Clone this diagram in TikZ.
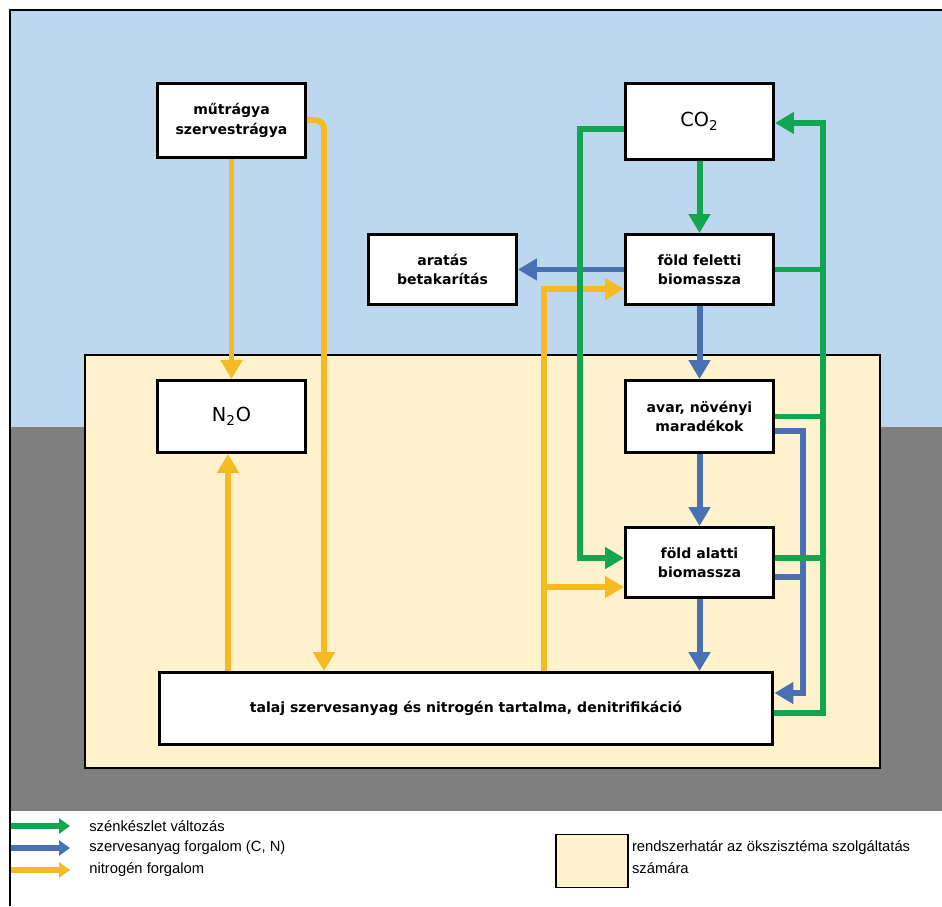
\documentclass[tikz,border=0pt]{standalone}
\usepackage{fontspec}
\setmainfont{DejaVu Sans}
\newfontfamily\jelfont{Liberation Sans}
\usepackage{tikz}
\usetikzlibrary{arrows.meta}
\usetikzlibrary{calc}
\usetikzlibrary{positioning}

\definecolor{egkek}{HTML}{BDD7EE}
\definecolor{talajszurke}{HTML}{7F7F7F}
\definecolor{rendszer}{HTML}{FFF2CC}
\definecolor{szen}{HTML}{12A650}
\definecolor{szerves}{HTML}{4A70B4}
\definecolor{nitrogen}{HTML}{F6BA22}

\tikzset{
  doboz/.style={draw=black, line width=1.7pt, fill=white, align=center, inner sep=0pt,
    minimum width=2.96cm, minimum height=1.44cm, font=\fontsize{8}{11}\selectfont\bfseries},
  keplet/.style={doboz, font=\fontsize{11}{13}\selectfont},
  folyam/.style={line width=3.4pt, -{Triangle[width=0.42cm,length=0.38cm]}},
  vonal/.style={line width=3.4pt},
  jelnyil/.style={line width=3.4pt, -{Triangle[width=0.3cm,length=0.22cm]}},
  jelszoveg/.style={anchor=west, inner sep=0pt, font=\jelfont\fontsize{8.4}{12.5}\selectfont}
}

\begin{document}
\begin{tikzpicture}[x=0.02cm,y=-0.02cm]
\useasboundingbox (0,0) rectangle (942,906);
\fill[egkek] (10,10) rectangle (942,427);
\fill[talajszurke] (10,427) rectangle (942,811);
\draw[fill=rendszer, line width=0.6pt] (85,355) rectangle (880,768);
\draw[line width=0.9pt] (10,906) -- (10,10) -- (942,10);

\node[doboz, minimum height=1.48cm] (mut) at (231.5,120.5) {műtrágya\\szervestrágya};
\node[keplet, minimum height=1.52cm] (co2) at (699.5,121.5) {CO\textsubscript{2}};
\node[doboz, minimum height=1.4cm] (arat) at (442.5,269.5) {aratás\\betakarítás};
\node[doboz, minimum height=1.4cm] (fel) at (699.5,269.5) {föld feletti\\biomassza};
\node[keplet] (n2o) at (231.5,416.5) {N\textsubscript{2}O};
\node[doboz] (avar) at (699.5,416.5) {avar, növényi\\maradékok};
\node[doboz, minimum height=1.4cm] (alatti) at (699.5,562.5) {föld alatti\\biomassza};
\node[doboz, minimum width=12.28cm] (talaj) at (466,708.5) {talaj szervesanyag és nitrogén tartalma, denitrifikáció};

\coordinate (zoldsin) at (823,0);
\coordinate (keksin) at (803,0);
\coordinate (sargaag) at (544,587);

\draw[nitrogen, folyam] (mut) -- (n2o);
\draw[nitrogen, folyam, rounded corners=5pt] (mut.east |- 0,120) -| (talaj.north -| 324,0);
\draw[nitrogen, folyam] (talaj.north -| 228,0) -- (n2o.south -| 228,0);
\draw[nitrogen, folyam] (talaj.north -| 544,0) |- (fel.west |- 0,289);
\draw[nitrogen, folyam] (sargaag) -- (alatti.west |- sargaag);

\draw[szerves, folyam] (fel.west) -- (arat.east);
\draw[szerves, folyam] (fel) -- (avar);
\draw[szerves, folyam] (avar) -- (alatti);
\draw[szerves, folyam] (alatti.south) -- (alatti.south |- talaj.north);
\draw[szerves, folyam] (avar.east |- 0,431) -| (keksin |- 0,693) -- (talaj.east |- 0,693);
\draw[szerves, vonal] (alatti.east |- 0,577) -- (keksin |- 0,577);

\draw[szen, folyam] (co2) -- (fel);
\draw[szen, folyam] (co2.west |- 0,129) -| (580,558) -- (alatti.west |- 0,558);
\draw[szen, folyam] (talaj.east |- 0,713) -| (zoldsin |- 0,123) -- (co2.east |- 0,123);
\draw[szen, vonal] (fel.east) -- (fel.east -| zoldsin);
\draw[szen, vonal] (avar.east) -- (avar.east -| zoldsin);
\draw[szen, vonal] (alatti.east |- 0,558) -- (zoldsin |- 0,558);

\foreach \szin/\y/\szoveg in {szen/826/{szénkészlet változás}, szerves/848/{szervesanyag forgalom (C, N)}, nitrogen/870/{nitrogén forgalom}}{
  \node[jelszoveg] (jel\szin) at (89,\y) {\szoveg};
  \coordinate (nyil\szin) at (11,\y);
  \draw[\szin, jelnyil] (nyil\szin) -- ([xshift=-0.38cm]jel\szin.west);
}
\node[draw=black, line width=0.8pt, fill=rendszer, minimum width=1.44cm, minimum height=1.06cm] (jelrendszer) at (592,861) {};
\node[jelszoveg, anchor=base west, align=left] (jelrendszerszoveg) at ([xshift=0.06cm]jelrendszer.east |- 0,873) {rendszerhatár az ökszisztéma szolgáltatás\\számára};
\end{tikzpicture}
\end{document}
